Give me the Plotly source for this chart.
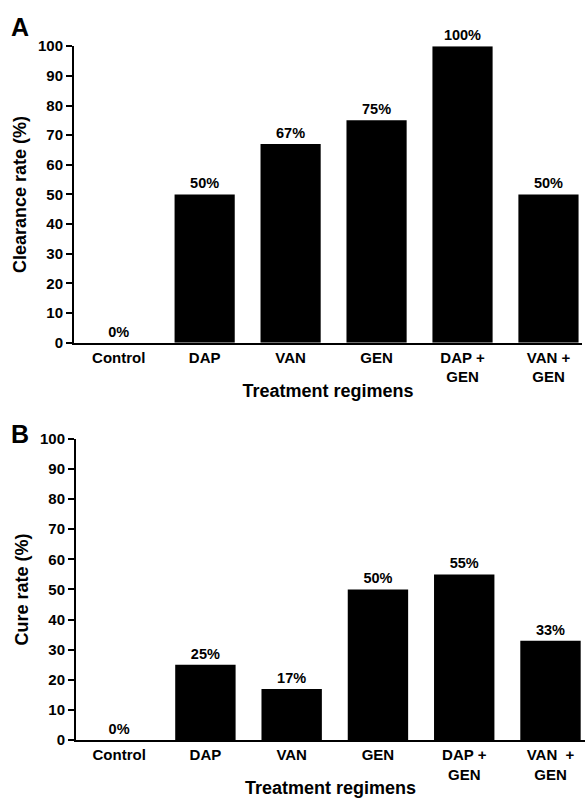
import plotly.graph_objects as go

categories = ["Control", "DAP", "VAN", "GEN", "DAP +<br>GEN", "VAN +<br>GEN"]
categories_b = ["Control", "DAP", "VAN", "GEN", "DAP +<br>GEN", "VAN  +<br>GEN"]
clearance = [0, 50, 67, 75, 100, 50]
cure = [0, 25, 17, 50, 55, 33]
yticks = [0, 10, 20, 30, 40, 50, 60, 70, 80, 90, 100]

W, H = 585, 805
FONT = "Liberation Sans, Arial, sans-serif"

def px(x):
    return x / W

def py(y):
    return 1 - y / H

fig = go.Figure()
xs = list(range(len(categories)))
valfont = dict(family=FONT, size=14.5, color="black", weight="bold")
fig.add_trace(go.Bar(x=xs, y=clearance, marker=dict(color="black", line=dict(width=0)),
                     text=[f"{v}%" for v in clearance], textposition="outside",
                     textfont=valfont, cliponaxis=False, xaxis="x", yaxis="y", width=0.7))
fig.add_trace(go.Bar(x=xs, y=cure, marker=dict(color="black", line=dict(width=0)),
                     text=[f"{v}%" for v in cure], textposition="outside",
                     textfont=valfont, cliponaxis=False, xaxis="x2", yaxis="y2", width=0.7))

axis_common = dict(showline=True, linecolor="black", linewidth=2, showgrid=False, zeroline=False)
tickfont = dict(family=FONT, size=15, color="black", weight="bold")
titlefont = dict(family=FONT, size=18, color="black", weight="bold")

fig.update_layout(
    width=W, height=H, margin=dict(l=0, r=0, t=0, b=0),
    paper_bgcolor="white", plot_bgcolor="white", showlegend=False,
    xaxis=dict(domain=[px(74), px(582)], anchor="y", range=[-0.52, 5.39],
               tickmode="array", tickvals=xs, ticktext=categories, ticks="",
               tickfont=tickfont, title=dict(text="Treatment regimens", font=titlefont, standoff=0),
               **axis_common),
    yaxis=dict(domain=[py(341), py(38)], anchor="x", range=[0, 100],
               tickmode="array", tickvals=yticks, ticks="outside", ticklen=6, tickwidth=2,
               tickcolor="black", tickfont=tickfont,
               title=dict(text="Clearance rate (%)", font=titlefont, standoff=7),
               **axis_common),
    xaxis2=dict(domain=[px(76), px(585)], anchor="y2", range=[-0.50, 5.40],
                tickmode="array", tickvals=xs, ticktext=categories_b, ticks="",
                tickfont=tickfont, title=dict(text="Treatment regimens", font=titlefont, standoff=0),
                **axis_common),
    yaxis2=dict(domain=[py(747), py(439)], anchor="x2", range=[0, 100],
                tickmode="array", tickvals=yticks, ticks="outside", ticklen=6, tickwidth=2,
                tickcolor="black", tickfont=tickfont,
                title=dict(text="Cure rate (%)", font=titlefont, standoff=7),
                **axis_common),
    annotations=[
        dict(text="A", x=px(9), y=py(2), xref="paper", yref="paper", xanchor="left", yanchor="top",
             showarrow=False, font=dict(family=FONT, size=25, color="black", weight="bold")),
        dict(text="B", x=px(9), y=py(418), xref="paper", yref="paper", xanchor="left", yanchor="top",
             showarrow=False, font=dict(family=FONT, size=25, color="black", weight="bold")),
    ],
)

fig.write_html("out.html")
